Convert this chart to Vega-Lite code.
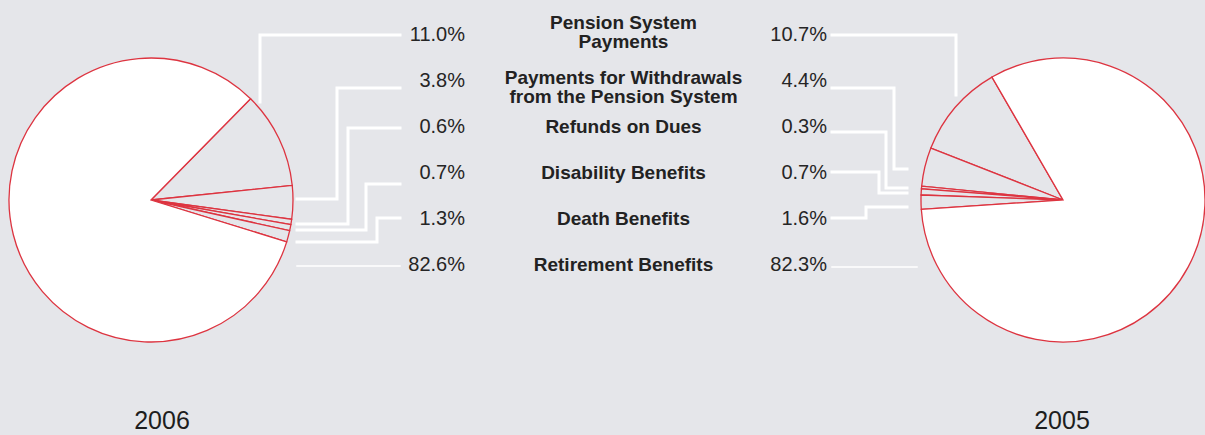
{
  "$schema": "https://vega.github.io/schema/vega-lite/v6.json",
  "background": "#e5e6ea",
  "padding": 0,
  "spacing": 0,
  "config": {"view": {"stroke": null}, "font": "Liberation Sans"},
  "datasets": {
    "shares": [
      {"year": "2006", "rank": 1, "category": "Pension System\nPayments", "share": 0.110},
      {"year": "2006", "rank": 2, "category": "Payments for Withdrawals\nfrom the Pension System", "share": 0.038},
      {"year": "2006", "rank": 3, "category": "Refunds on Dues", "share": 0.006},
      {"year": "2006", "rank": 4, "category": "Disability Benefits", "share": 0.007},
      {"year": "2006", "rank": 5, "category": "Death Benefits", "share": 0.013},
      {"year": "2006", "rank": 6, "category": "Retirement Benefits", "share": 0.826},
      {"year": "2005", "rank": 1, "category": "Pension System\nPayments", "share": 0.107},
      {"year": "2005", "rank": 2, "category": "Payments for Withdrawals\nfrom the Pension System", "share": 0.044},
      {"year": "2005", "rank": 3, "category": "Refunds on Dues", "share": 0.003},
      {"year": "2005", "rank": 4, "category": "Disability Benefits", "share": 0.007},
      {"year": "2005", "rank": 5, "category": "Death Benefits", "share": 0.016},
      {"year": "2005", "rank": 6, "category": "Retirement Benefits", "share": 0.823}
    ],
    "leaders": [
      {"year": "2006", "rank": 1, "step": 1, "x": 400, "y": 35},
      {"year": "2006", "rank": 1, "step": 2, "x": 260, "y": 35},
      {"year": "2006", "rank": 1, "step": 3, "x": 260, "y": 102},
      {"year": "2006", "rank": 2, "step": 1, "x": 400, "y": 88},
      {"year": "2006", "rank": 2, "step": 2, "x": 337, "y": 88},
      {"year": "2006", "rank": 2, "step": 3, "x": 337, "y": 199},
      {"year": "2006", "rank": 2, "step": 4, "x": 297, "y": 199},
      {"year": "2006", "rank": 3, "step": 1, "x": 400, "y": 128},
      {"year": "2006", "rank": 3, "step": 2, "x": 348, "y": 128},
      {"year": "2006", "rank": 3, "step": 3, "x": 348, "y": 224},
      {"year": "2006", "rank": 3, "step": 4, "x": 297, "y": 224},
      {"year": "2006", "rank": 4, "step": 1, "x": 400, "y": 184},
      {"year": "2006", "rank": 4, "step": 2, "x": 366, "y": 184},
      {"year": "2006", "rank": 4, "step": 3, "x": 366, "y": 230},
      {"year": "2006", "rank": 4, "step": 4, "x": 297, "y": 230},
      {"year": "2006", "rank": 5, "step": 1, "x": 400, "y": 218},
      {"year": "2006", "rank": 5, "step": 2, "x": 377, "y": 218},
      {"year": "2006", "rank": 5, "step": 3, "x": 377, "y": 242},
      {"year": "2006", "rank": 5, "step": 4, "x": 297, "y": 242},
      {"year": "2006", "rank": 6, "step": 1, "x": 400, "y": 266},
      {"year": "2006", "rank": 6, "step": 2, "x": 297, "y": 266},
      {"year": "2005", "rank": 1, "step": 1, "x": 832, "y": 35},
      {"year": "2005", "rank": 1, "step": 2, "x": 956, "y": 35},
      {"year": "2005", "rank": 1, "step": 3, "x": 956, "y": 95},
      {"year": "2005", "rank": 2, "step": 1, "x": 832, "y": 88},
      {"year": "2005", "rank": 2, "step": 2, "x": 894, "y": 88},
      {"year": "2005", "rank": 2, "step": 3, "x": 894, "y": 169},
      {"year": "2005", "rank": 2, "step": 4, "x": 907, "y": 169},
      {"year": "2005", "rank": 3, "step": 1, "x": 832, "y": 132},
      {"year": "2005", "rank": 3, "step": 2, "x": 886, "y": 132},
      {"year": "2005", "rank": 3, "step": 3, "x": 886, "y": 188},
      {"year": "2005", "rank": 3, "step": 4, "x": 907, "y": 188},
      {"year": "2005", "rank": 4, "step": 1, "x": 832, "y": 172},
      {"year": "2005", "rank": 4, "step": 2, "x": 879, "y": 172},
      {"year": "2005", "rank": 4, "step": 3, "x": 879, "y": 193},
      {"year": "2005", "rank": 4, "step": 4, "x": 907, "y": 193},
      {"year": "2005", "rank": 5, "step": 1, "x": 832, "y": 218},
      {"year": "2005", "rank": 5, "step": 2, "x": 866, "y": 218},
      {"year": "2005", "rank": 5, "step": 3, "x": 866, "y": 207},
      {"year": "2005", "rank": 5, "step": 4, "x": 907, "y": 207},
      {"year": "2005", "rank": 6, "step": 1, "x": 832, "y": 267},
      {"year": "2005", "rank": 6, "step": 2, "x": 917, "y": 267}
    ]
  },
  "vconcat": [
    {
      "width": 1205,
      "height": 400,
      "layer": [
        {
          "data": {"name": "leaders"},
          "mark": {"type": "line", "color": "#ffffff", "strokeCap": "square", "strokeJoin": "miter"},
          "encoding": {
            "x": {"field": "x", "type": "quantitative", "scale": {"domain": [0, 1205], "range": [0, 1205], "nice": false, "zero": false}, "axis": null},
            "y": {"field": "y", "type": "quantitative", "scale": {"domain": [0, 400], "range": [0, 400], "nice": false, "zero": false}, "axis": null},
            "detail": [{"field": "year"}, {"field": "rank"}],
            "order": {"field": "step", "type": "quantitative"},
            "strokeWidth": {"condition": {"test": "datum.rank === 6", "value": 1.5}, "value": 3}
          }
        },
        {
          "data": {"name": "shares"},
          "transform": [{"filter": "datum.year === '2006'"}],
          "mark": {"type": "arc", "radius": 142, "stroke": "#dd3440", "strokeWidth": 1.3},
          "encoding": {
            "theta": {"field": "share", "type": "quantitative", "stack": true, "scale": {"range": [0.777, 7.060]}},
            "order": {"field": "rank", "type": "quantitative", "sort": "ascending"},
            "x": {"field": "year", "type": "nominal", "scale": {"type": "point", "domain": ["2006", "2005"], "range": [151, 1063], "padding": 0}, "axis": null},
            "fill": {"condition": {"test": "datum.rank === 6", "value": "#ffffff"}, "value": "#e5e6ea"}
          }
        },
        {
          "data": {"name": "shares"},
          "transform": [{"filter": "datum.year === '2005'"}],
          "mark": {"type": "arc", "radius": 142, "stroke": "#dd3440", "strokeWidth": 1.3},
          "encoding": {
            "theta": {"field": "share", "type": "quantitative", "stack": true, "scale": {"range": [-0.524, 5.759]}},
            "order": {"field": "rank", "type": "quantitative", "sort": "descending"},
            "x": {"field": "year", "type": "nominal", "scale": {"type": "point", "domain": ["2006", "2005"], "range": [151, 1063], "padding": 0}, "axis": null},
            "fill": {"condition": {"test": "datum.rank === 6", "value": "#ffffff"}, "value": "#e5e6ea"}
          }
        },
        {
          "data": {"name": "shares"},
          "mark": {"type": "text", "align": "right", "baseline": "middle", "fontSize": 20, "color": "#252525"},
          "encoding": {
            "x": {"field": "year", "type": "nominal", "scale": {"type": "point", "domain": ["2006", "2005"], "range": [465, 827], "padding": 0}, "axis": null},
            "y": {"field": "rank", "type": "ordinal", "scale": {"type": "point", "domain": [1, 2, 3, 4, 5, 6], "range": [35, 265], "padding": 0}, "axis": null},
            "text": {"field": "share", "type": "quantitative", "format": ".1%"}
          }
        },
        {
          "data": {"name": "shares"},
          "transform": [{"filter": "datum.year === '2006' && datum.rank >= 3"}],
          "mark": {"type": "text", "align": "center", "baseline": "middle", "fontSize": 19, "fontWeight": "bold", "color": "#222222", "dx": 21},
          "encoding": {
            "y": {"field": "rank", "type": "ordinal", "scale": {"type": "point", "domain": [1, 2, 3, 4, 5, 6], "range": [35, 265], "padding": 0}, "axis": null},
            "text": {"field": "category", "type": "nominal"}
          }
        },
        {
          "data": {"name": "shares"},
          "transform": [{"filter": "datum.year === '2006' && datum.rank === 1"}],
          "mark": {"type": "text", "align": "center", "baseline": "middle", "fontSize": 19, "fontWeight": "bold", "color": "#222222", "lineBreak": "\n", "lineHeight": 19, "dx": 21, "dy": -12},
          "encoding": {
            "y": {"field": "rank", "type": "ordinal", "scale": {"type": "point", "domain": [1, 2, 3, 4, 5, 6], "range": [35, 265], "padding": 0}, "axis": null},
            "text": {"field": "category", "type": "nominal"}
          }
        },
        {
          "data": {"name": "shares"},
          "transform": [{"filter": "datum.year === '2006' && datum.rank === 2"}],
          "mark": {"type": "text", "align": "center", "baseline": "middle", "fontSize": 19, "fontWeight": "bold", "color": "#222222", "lineBreak": "\n", "lineHeight": 19, "dx": 21, "dy": -3},
          "encoding": {
            "y": {"field": "rank", "type": "ordinal", "scale": {"type": "point", "domain": [1, 2, 3, 4, 5, 6], "range": [35, 265], "padding": 0}, "axis": null},
            "text": {"field": "category", "type": "nominal"}
          }
        }
      ],
      "resolve": {"scale": {"x": "independent", "y": "independent", "theta": "independent"}}
    },
    {
      "width": 1205,
      "height": 35,
      "data": {"name": "shares"},
      "transform": [{"filter": "datum.rank === 6"}],
      "mark": {"type": "text", "align": "center", "baseline": "middle", "fontSize": 25, "color": "#1e1e1e", "dy": 3},
      "encoding": {
        "x": {"field": "year", "type": "nominal", "scale": {"type": "point", "domain": ["2006", "2005"], "range": [162, 1062], "padding": 0}, "axis": null},
        "text": {"field": "year", "type": "nominal"}
      }
    }
  ]
}
